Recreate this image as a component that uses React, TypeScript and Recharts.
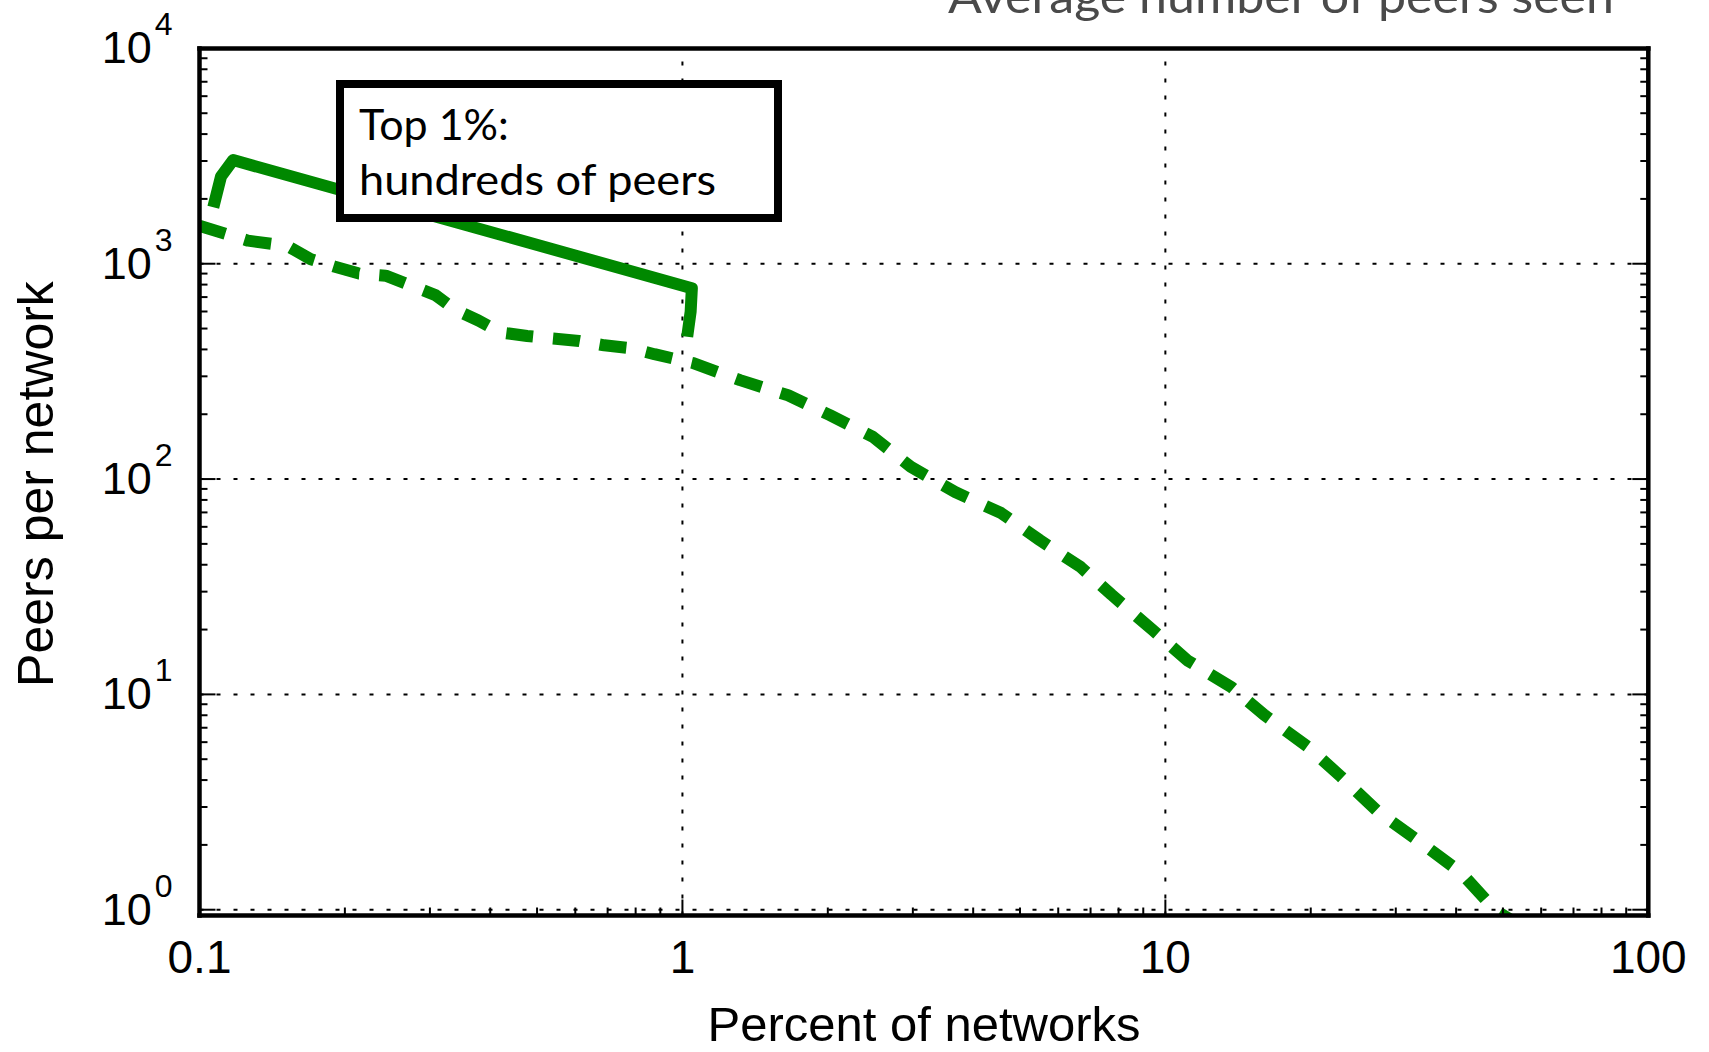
import React from 'react';
import { LineChart, Line, XAxis, YAxis, ReferenceLine } from 'recharts';

// ---- data (log-log) ----
// solid: top 1% of networks
const topPercent = [0.1068, 0.1108, 0.1174, 1.046, 1.04, 1.023];
const topPeers = [1830, 2540, 3030, 770, 600, 458];

// dashed: all networks
const allPercent = [
  0.1, 0.126, 0.152, 0.17, 0.19, 0.214, 0.243, 0.271, 0.308, 0.339, 0.378, 0.419,
  0.477, 0.536, 0.611, 0.689, 0.782, 0.875, 1.05, 1.316, 1.655, 2.02, 2.48, 2.97,
  3.67, 4.57, 5.5, 6.68, 7.74, 9.44, 11.1, 13.7, 16.0, 19.8, 23.1, 27.7, 33.2, 40.9,
  48.3, 54,
];
const allPeers = [
  1500, 1280, 1210, 1050, 970, 900, 880, 800, 715, 610, 545, 480,
  462, 450, 438, 418, 405, 380, 346, 288, 245, 198, 157, 114,
  87, 69.5, 52, 39, 29, 19.8, 14.4, 10.8, 8.05, 5.67, 4.15, 2.82, 2.11, 1.49,
  0.99, 0.85,
];

// ---- axes ----
const xMajor = [0.1, 1, 10, 100];
const xLabels = ['0.1', '1', '10', '100'];
const yMajor = [1, 10, 100, 1000, 10000];
const yExponents = ['0', '1', '2', '3', '4'];
const xGrid = [1, 10];
const yGrid = [1, 10, 100, 1000];

const minorOf = (decades: number[]) =>
  decades.flatMap((d) => [2, 3, 4, 5, 6, 7, 8, 9].map((m) => m * d));
const xTicks = [...xMajor, ...minorOf([0.1, 1, 10])];
const yTicks = [...yMajor, ...minorOf([1, 10, 100, 1000])];

const topData = topPercent.map((x, i) => ({ x, y: topPeers[i] }));
const allData = allPercent.map((x, i) => ({ x, y: allPeers[i] }));

const GREEN = '#008800';
const TICK_FONT = '"Liberation Sans", Arial, Helvetica, sans-serif';
const NOTE_FONT = "Lato, 'Open Sans', sans-serif";
const MAJOR_LEN = 16;
const MINOR_LEN = 8;

const majorIndex = (v: number, majors: number[]) =>
  majors.findIndex((m) => Math.abs(m - v) / m < 1e-6);

const BottomTick = ({ x, y, payload }: any) => {
  const i = majorIndex(payload.value, xMajor);
  return (
    <g>
      <line x1={x} x2={x} y1={y} y2={y - (i >= 0 ? MAJOR_LEN : MINOR_LEN)} stroke="#000" strokeWidth={2} />
      {i >= 0 && (
        <text x={x} y={y + 57.5} textAnchor="middle" fontSize={46} fontFamily={TICK_FONT} fill="#000">
          {xLabels[i]}
        </text>
      )}
    </g>
  );
};

const TopTick = ({ x, y, payload }: any) => {
  const i = majorIndex(payload.value, xMajor);
  return <line x1={x} x2={x} y1={y} y2={y + (i >= 0 ? MAJOR_LEN : MINOR_LEN)} stroke="#000" strokeWidth={2} />;
};

const LeftTick = ({ x, y, payload }: any) => {
  const i = majorIndex(payload.value, yMajor);
  return (
    <g>
      <line x1={x} x2={x + (i >= 0 ? MAJOR_LEN : MINOR_LEN)} y1={y} y2={y} stroke="#000" strokeWidth={2} />
      {i >= 0 && (
        <text x={x - 27} y={y + 15} textAnchor="end" fontFamily={TICK_FONT} fill="#000">
          <tspan fontSize={45}>10</tspan>
          <tspan fontSize={32} dx={3} dy={-28}>{yExponents[i]}</tspan>
        </text>
      )}
    </g>
  );
};

const RightTick = ({ x, y, payload }: any) => {
  const i = majorIndex(payload.value, yMajor);
  return <line x1={x} x2={x - (i >= 0 ? MAJOR_LEN : MINOR_LEN)} y1={y} y2={y} stroke="#000" strokeWidth={2} />;
};

const spine = { stroke: '#000', strokeWidth: 4.5, strokeLinecap: 'square' as const };

export default function App() {
  return (
    <div
      style={{
        position: 'absolute',
        left: 0,
        top: 0,
        width: 1709,
        height: 1052,
        overflow: 'hidden',
        background: '#fff',
      }}
    >
      <LineChart
        width={1709}
        height={1052}
        margin={{ top: 47.4, right: 59.7, bottom: 76.5, left: 99.5 }}
      >
        <XAxis
          xAxisId="b"
          dataKey="x"
          type="number"
          scale="log"
          domain={[0.1, 100]}
          allowDataOverflow
          ticks={xTicks}
          interval={0}
          height={60}
          tickSize={0}
          tickMargin={0}
          tickLine={false}
          axisLine={spine}
          tick={(p: any) => <BottomTick {...p} />}
        />
        <XAxis
          xAxisId="t"
          orientation="top"
          type="number"
          scale="log"
          domain={[0.1, 100]}
          allowDataOverflow
          ticks={xTicks}
          interval={0}
          height={1}
          tickSize={0}
          tickMargin={0}
          tickLine={false}
          axisLine={spine}
          tick={(p: any) => <TopTick {...p} />}
        />
        <YAxis
          yAxisId="l"
          type="number"
          scale="log"
          domain={[0.94, 10000]}
          allowDataOverflow
          ticks={yTicks}
          interval={0}
          width={100}
          tickSize={0}
          tickMargin={0}
          tickLine={false}
          axisLine={spine}
          tick={(p: any) => <LeftTick {...p} />}
        />
        <YAxis
          yAxisId="r"
          orientation="right"
          type="number"
          scale="log"
          domain={[0.94, 10000]}
          allowDataOverflow
          ticks={yTicks}
          interval={0}
          width={1}
          tickSize={0}
          tickMargin={0}
          tickLine={false}
          axisLine={spine}
          tick={(p: any) => <RightTick {...p} />}
        />
        {xGrid.map((v) => (
          <ReferenceLine key={'gx' + v} x={v} xAxisId="b" yAxisId="l" stroke="#000" strokeWidth={2} strokeDasharray="4 13" />
        ))}
        {yGrid.map((v) => (
          <ReferenceLine key={'gy' + v} y={v} xAxisId="b" yAxisId="l" stroke="#000" strokeWidth={2} strokeDasharray="4 13" />
        ))}
        <Line
          xAxisId="b"
          yAxisId="l"
          data={allData}
          dataKey="y"
          type="linear"
          stroke={GREEN}
          strokeWidth={12}
          strokeDasharray="27 20"
          strokeLinejoin="round"
          dot={false}
          activeDot={false}
          isAnimationActive={false}
        />
        <Line
          xAxisId="b"
          yAxisId="l"
          data={topData}
          dataKey="y"
          type="linear"
          stroke={GREEN}
          strokeWidth={12}
          strokeLinejoin="round"
          dot={false}
          activeDot={false}
          isAnimationActive={false}
        />
      </LineChart>

      {/* title, annotation and axis titles */}
      <svg
        width={1709}
        height={1052}
        style={{ position: 'absolute', left: 0, top: 0, pointerEvents: 'none' }}
      >
        <text
          x={1281}
          y={13}
          textAnchor="middle"
          fontSize={46}
          fontFamily={NOTE_FONT}
          fill="#4a4a4a"
          textLength={666}
          lengthAdjust="spacingAndGlyphs"
        >
          Average number of peers seen
        </text>
        <rect x={340} y={84} width={438} height={134} fill="#fff" stroke="#000" strokeWidth={8} />
        <text x={359} y={140} fontSize={43} fontFamily={NOTE_FONT} fill="#000">
          Top 1%:
        </text>
        <text
          x={359}
          y={195}
          fontSize={43}
          fontFamily={NOTE_FONT}
          fill="#000"
          textLength={357}
          lengthAdjust="spacingAndGlyphs"
        >
          hundreds of peers
        </text>
        <text x={924} y={1041} textAnchor="middle" fontSize={49} fontFamily={TICK_FONT} fill="#000">
          Percent of networks
        </text>
        <text
          x={53}
          y={484}
          textAnchor="middle"
          fontSize={50}
          fontFamily={TICK_FONT}
          fill="#000"
          transform="rotate(-90 53 484)"
        >
          Peers per network
        </text>
      </svg>
    </div>
  );
}
